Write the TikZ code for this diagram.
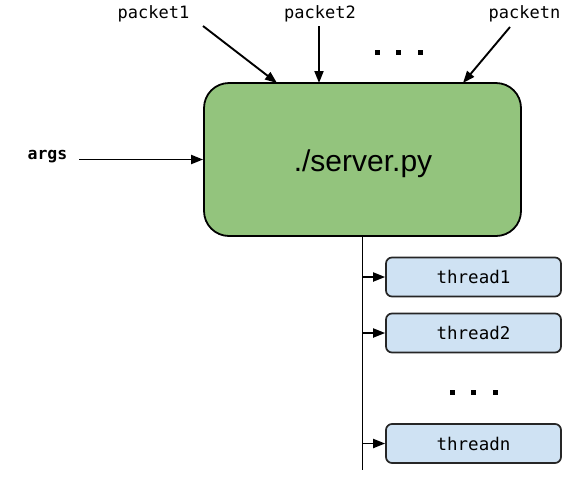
\documentclass[tikz,border=0pt]{standalone}
\usepackage{fontspec}
\setmainfont{Liberation Sans}
\newfontfamily\monofont{DejaVu Sans Mono}
\usetikzlibrary{arrows.meta}
\definecolor{srvgreen}{HTML}{93C47D}
\definecolor{thrblue}{HTML}{CFE2F3}
\begin{document}
\begin{tikzpicture}[x=1pt,y=-1pt,
  arr/.style={line width=1.9pt,-{Triangle[length=12pt,width=9pt]}},
  lbl/.style={font=\monofont\fontsize{17}{19}\selectfont,inner sep=0pt},
  thr/.style={draw=black!85,line width=1.7pt,fill=thrblue,rounded corners=6pt,
    minimum width=175pt,minimum height=39pt,inner sep=0pt,
    font=\monofont\fontsize{17.5}{19}\selectfont},
  dot/.style={fill=black,minimum size=5pt,inner sep=0pt}]
\useasboundingbox (0,0) rectangle (569,480);
\node[draw=black,line width=1.8pt,fill=srvgreen,rounded corners=25pt,
  minimum width=317pt,minimum height=153pt,inner sep=0pt] (server) at (362.5,159.5) {};
\node[anchor=base,font=\fontsize{30}{34}\selectfont,inner sep=0pt] (stext) at (363,171) {./server.py};
% packet labels
\node[lbl] (p1) at (153.5,14) {packet1};
\node[lbl] (p2) at (320,14) {packet2};
\node[lbl] (pn) at (524.5,14) {packetn};
\coordinate (p1s) at (203,26);
\coordinate (p2s) at (319,26);
\coordinate (pns) at (510,27);
\coordinate (p1e) at (277,83);
\coordinate (p2e) at (319,83);
\coordinate (pne) at (463,83);
\draw[arr] (p1s) -- (p1e);
\draw[arr] (p2s) -- (p2e);
\draw[arr] (pns) -- (pne);
\node[dot] (d1) at (377,52) {};
\node[dot] (d2) at (398,52) {};
\node[dot] (d3) at (420,52) {};
% args
\node[lbl,font=\monofont\bfseries\fontsize{16.5}{18}\selectfont] (args) at (47.5,157) {args};
\coordinate (argst) at (79,159.5);
\draw[arr] (argst) -- (server.west);
% threads
\coordinate (bottom) at (362.5,470);
\draw[line width=1.9pt] (server.south) -- (bottom);
\node[thr] (t1) at (473.5,277) {thread1};
\node[thr] (t2) at (473.5,333) {thread2};
\node[thr] (tn) at (473.5,443.5) {threadn};
\draw[arr] (t1.west -| server.south) -- (t1.west);
\draw[arr] (t2.west -| server.south) -- (t2.west);
\draw[arr] (tn.west -| server.south) -- (tn.west);
\node[dot] (e1) at (452,392) {};
\node[dot] (e2) at (473.5,392) {};
\node[dot] (e3) at (495,392) {};
\end{tikzpicture}
\end{document}
